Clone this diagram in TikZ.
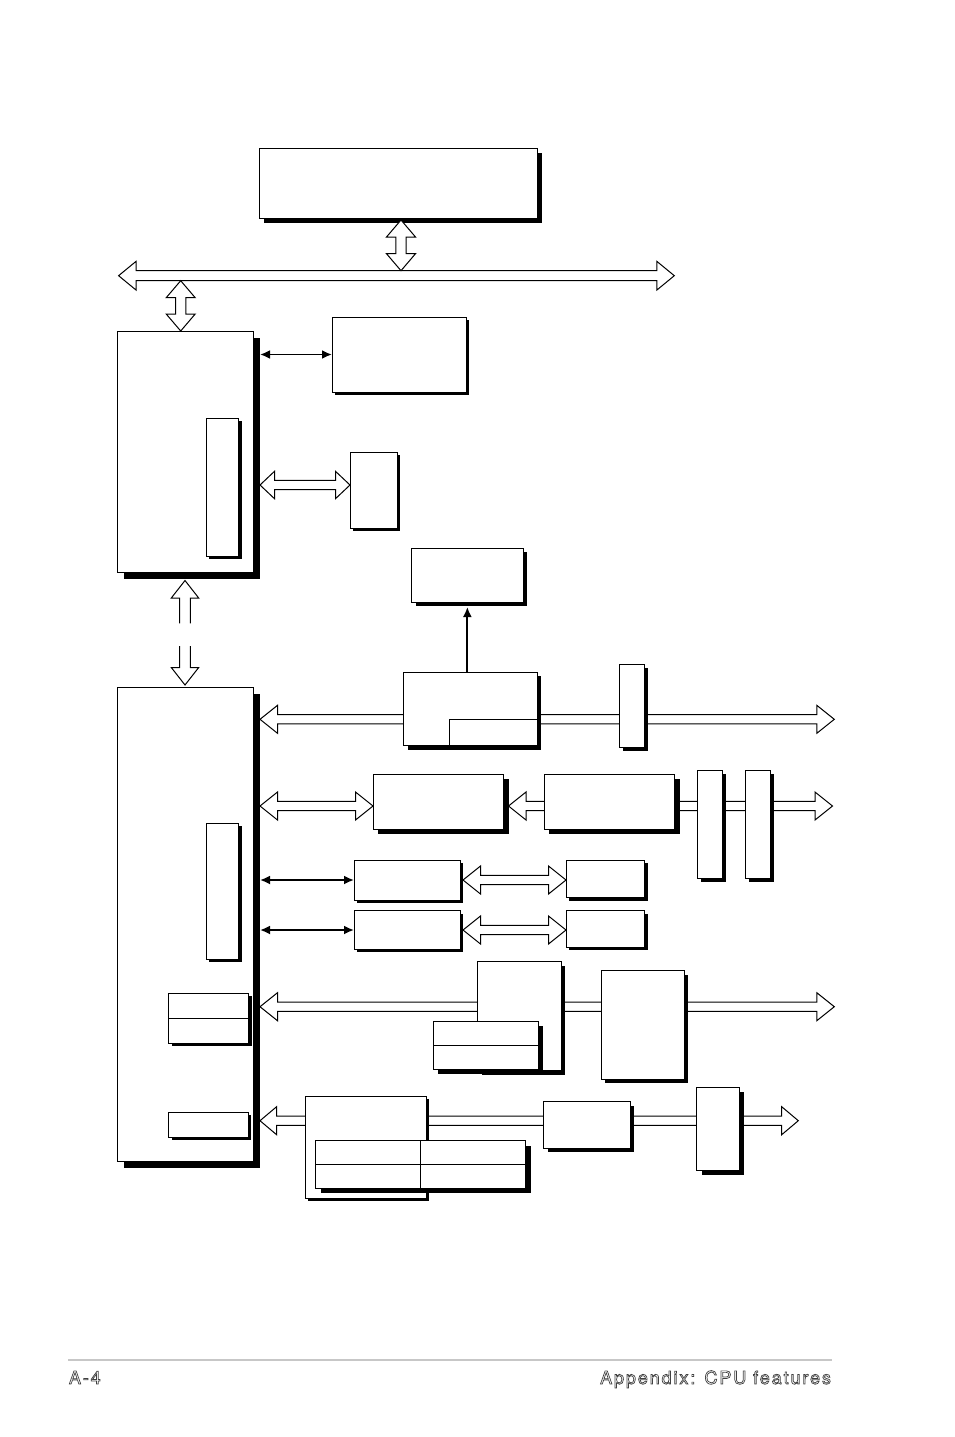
\documentclass[tikz,border=0pt]{standalone}
\usepackage{fontspec}
\setmainfont{TeX Gyre Heros}
\newfontfamily\footfont[LetterSpace=10.5]{TeX Gyre Heros}
\usetikzlibrary{shadows,arrows.meta,calc}
\pgfdeclarelayer{bg}
\pgfsetlayers{bg,main}
\tikzset{
  blk/.style={draw=black, fill=white, line width=1pt, inner sep=0pt, outer sep=0pt},
  hol/.style={draw=black, fill=white, line width=1pt, line join=miter},
  tarrow/.style={line width=1.9pt, {Latex[length=10pt,width=9pt]}-{Latex[length=10pt,width=9pt]}},
  tarrowone/.style={line width=1.9pt, -{Latex[length=10pt,width=9pt]}},
  foot/.style={inner sep=0pt, outer sep=0pt, text=black!75, font=\footfont\fontsize{18}{18}\selectfont},
}
\newcommand{\bx}[6]{\node[blk, drop shadow={shadow xshift=#6pt, shadow yshift=-#6pt, fill=black, opacity=1}, minimum width={#4-#2}, minimum height={#5-#3}, anchor=north west] (#1) at (#2,#3) {};}
\newcommand{\HL}{17pt}
\newcommand{\HW}{14pt}
\newcommand{\SW}{4.75pt}
\newcommand{\hboth}[2]{\draw[hol] let \p1=#1, \p2=#2 in
  (\x1,\y1) -- (\x1+\HL,\y1+\HW) -- (\x1+\HL,\y1+\SW) -- (\x2-\HL,\y1+\SW) -- (\x2-\HL,\y1+\HW) -- (\x2,\y1)
  -- (\x2-\HL,\y1-\HW) -- (\x2-\HL,\y1-\SW) -- (\x1+\HL,\y1-\SW) -- (\x1+\HL,\y1-\HW) -- cycle;}
\newcommand{\vboth}[2]{\draw[hol] let \p1=#1, \p2=#2 in
  (\x1,\y1) -- (\x1+\HW,\y1-\HL) -- (\x1+\SW,\y1-\HL) -- (\x1+\SW,\y2+\HL) -- (\x1+\HW,\y2+\HL) -- (\x1,\y2)
  -- (\x1-\HW,\y2+\HL) -- (\x1-\SW,\y2+\HL) -- (\x1-\SW,\y1-\HL) -- (\x1-\HW,\y1-\HL) -- cycle;}
\newcommand{\vup}[2]{\draw[hol] let \p1=#1, \p2=#2 in
  (\x1+\SW,\y2) -- (\x1+\SW,\y1-\HL) -- (\x1+\HW,\y1-\HL) -- (\x1,\y1) -- (\x1-\HW,\y1-\HL) -- (\x1-\SW,\y1-\HL) -- (\x1-\SW,\y2);}
\newcommand{\vdown}[2]{\draw[hol] let \p1=#1, \p2=#2 in
  (\x1+\SW,\y1) -- (\x1+\SW,\y2+\HL) -- (\x1+\HW,\y2+\HL) -- (\x1,\y2) -- (\x1-\HW,\y2+\HL) -- (\x1-\SW,\y2+\HL) -- (\x1-\SW,\y1);}
\newcommand{\outl}[1]{\special{pdf:literal direct 0.7 w 1 Tr}#1\special{pdf:literal direct 0 Tr}}

\begin{document}
\begin{tikzpicture}[x=1pt,y=-1pt]
\useasboundingbox (0,0) rectangle (954,1437);

% ---- boxes ----
\bx{cpu}{259}{148}{537}{218}{5}
\bx{nb}{117}{331}{253}{572}{7}
\bx{nbin}{206}{418}{238.5}{556}{3}
\bx{mem}{332}{317}{466}{392}{3}
\bx{agp}{350}{452}{397}{528}{3}
\bx{clk}{411.7}{548}{523}{602}{4}
\bx{sb}{117}{687}{253}{1161}{7}
\bx{sbin}{206}{823}{238.5}{959}{3}
\bx{sbtwo}{168.5}{993}{248.5}{1043}{3}
\draw[line width=0.8pt] (sbtwo.west) -- (sbtwo.east);
\bx{sbsmall}{168.5}{1112}{248}{1137}{3}
\bx{pci}{403.6}{672}{537}{745.5}{4}
\node[blk, minimum width={537-449}, minimum height={745.5-719}, anchor=south east] (pcisub) at (pci.south east) {};
\bx{slot}{619}{664}{644}{747}{4}
\bx{b1}{373}{774}{503.5}{829}{5}
\bx{b2}{544}{774}{674.5}{829}{5}
\bx{slota}{697}{770}{722.5}{878.5}{3.5}
\bx{slotb}{745.5}{770.5}{770}{878.5}{3.5}
\bx{b3}{354}{860}{460}{900}{3}
\bx{b4}{566}{860}{644.5}{897.5}{3}
\bx{b5}{354}{910.7}{460}{949.3}{3}
\bx{b6}{566}{910.7}{644.5}{947.3}{3}
\bx{io}{477.6}{961.7}{561}{1070.7}{4}
\bx{iotwo}{433}{1021}{538}{1069.3}{5}
\draw[line width=0.8pt] (iotwo.west) -- (iotwo.east);
\bx{sio}{601}{970.7}{684.4}{1079.3}{4}
\bx{lpc}{305.4}{1096}{426.4}{1198.3}{3}
\bx{grid}{315.8}{1140.7}{525.5}{1188.3}{5}
\draw[line width=0.8pt] (grid.west) -- (grid.east);
\draw[line width=0.8pt] (grid.north) -- (grid.south);
\bx{b7}{543.5}{1101.7}{630.4}{1148.3}{4}
\bx{tall}{696.8}{1087.3}{739}{1170}{5}

% ---- named free ends ----
\coordinate (busL) at (118.6,275.7);
\coordinate (busR) at (674.3,275.7);
\coordinate (cpuBus) at (401,270.7);
\coordinate (busNb) at (180.7,280.7);
\coordinate (agpY) at (0,485);
\coordinate (nbsbU) at (185,623.3);
\coordinate (nbsbD) at (185,646);
\coordinate (pciR) at (834.3,719.3);
\coordinate (r1R) at (832.5,806);
\coordinate (r4R) at (834.3,1006.7);
\coordinate (r5R) at (798.3,1120.7);

% ---- hollow arrows under boxes ----
\begin{pgfonlayer}{bg}
\renewcommand{\HL}{17.4pt}\renewcommand{\HW}{14.3pt}\renewcommand{\SW}{5pt}
\hboth{(busL)}{(busR)}
\renewcommand{\HL}{14.5pt}\renewcommand{\HW}{13.7pt}\renewcommand{\SW}{4.7pt}
\hboth{([xshift=7pt]nb.east |- agpY)}{(agp.west |- agpY)}
\renewcommand{\HL}{17.5pt}\renewcommand{\HW}{14pt}\renewcommand{\SW}{4.6pt}
\hboth{([xshift=7pt]sb.east |- pciR)}{(pciR)}
\hboth{([xshift=7pt]sb.east |- r1R)}{(b1.west |- r1R)}
\hboth{([xshift=5pt]b1.east |- r1R)}{(r1R)}
\hboth{([xshift=3pt]b3.east)}{(b4.west)}
\hboth{([xshift=3pt]b5.east)}{(b6.west)}
\hboth{([xshift=7pt]sb.east |- r4R)}{(r4R)}
\renewcommand{\HL}{16.6pt}
\hboth{([xshift=7pt]sb.east |- r5R)}{(r5R)}
\end{pgfonlayer}

% ---- vertical hollow arrows ----
\renewcommand{\HL}{17pt}\renewcommand{\HW}{14.5pt}\renewcommand{\SW}{5.2pt}
\vboth{([shift={(3pt,-2pt)}]cpu.south)}{(cpuBus)}
\vboth{(busNb)}{(nb.north -| busNb)}
\renewcommand{\HL}{17.5pt}\renewcommand{\HW}{13.7pt}\renewcommand{\SW}{5.4pt}
\vup{([yshift=-8.5pt]nb.south)}{(nbsbU)}
\vdown{(nbsbD)}{([yshift=2pt]sb.north)}

% ---- thin arrows ----
\draw[tarrow] ([xshift=7pt]nb.east |- mem.west) -- (mem.west);
\draw[tarrow] ([xshift=7pt]sb.east |- b3.west) -- (b3.west);
\draw[tarrow] ([xshift=7pt]sb.east |- b5.west) -- (b5.west);
\draw[tarrowone] (pci.north -| clk.south) -- ([yshift=-5pt]clk.south);

% ---- footer ----
\draw[black!22, line width=2pt] (68,1360) -- (832,1360);
\node[foot, anchor=base west] (pg) at (69,1384) {\outl{A-4}};
\node[foot, anchor=base east] (ttl) at (831,1384) {\outl{Appendix: CPU features}};
\end{tikzpicture}
\end{document}
